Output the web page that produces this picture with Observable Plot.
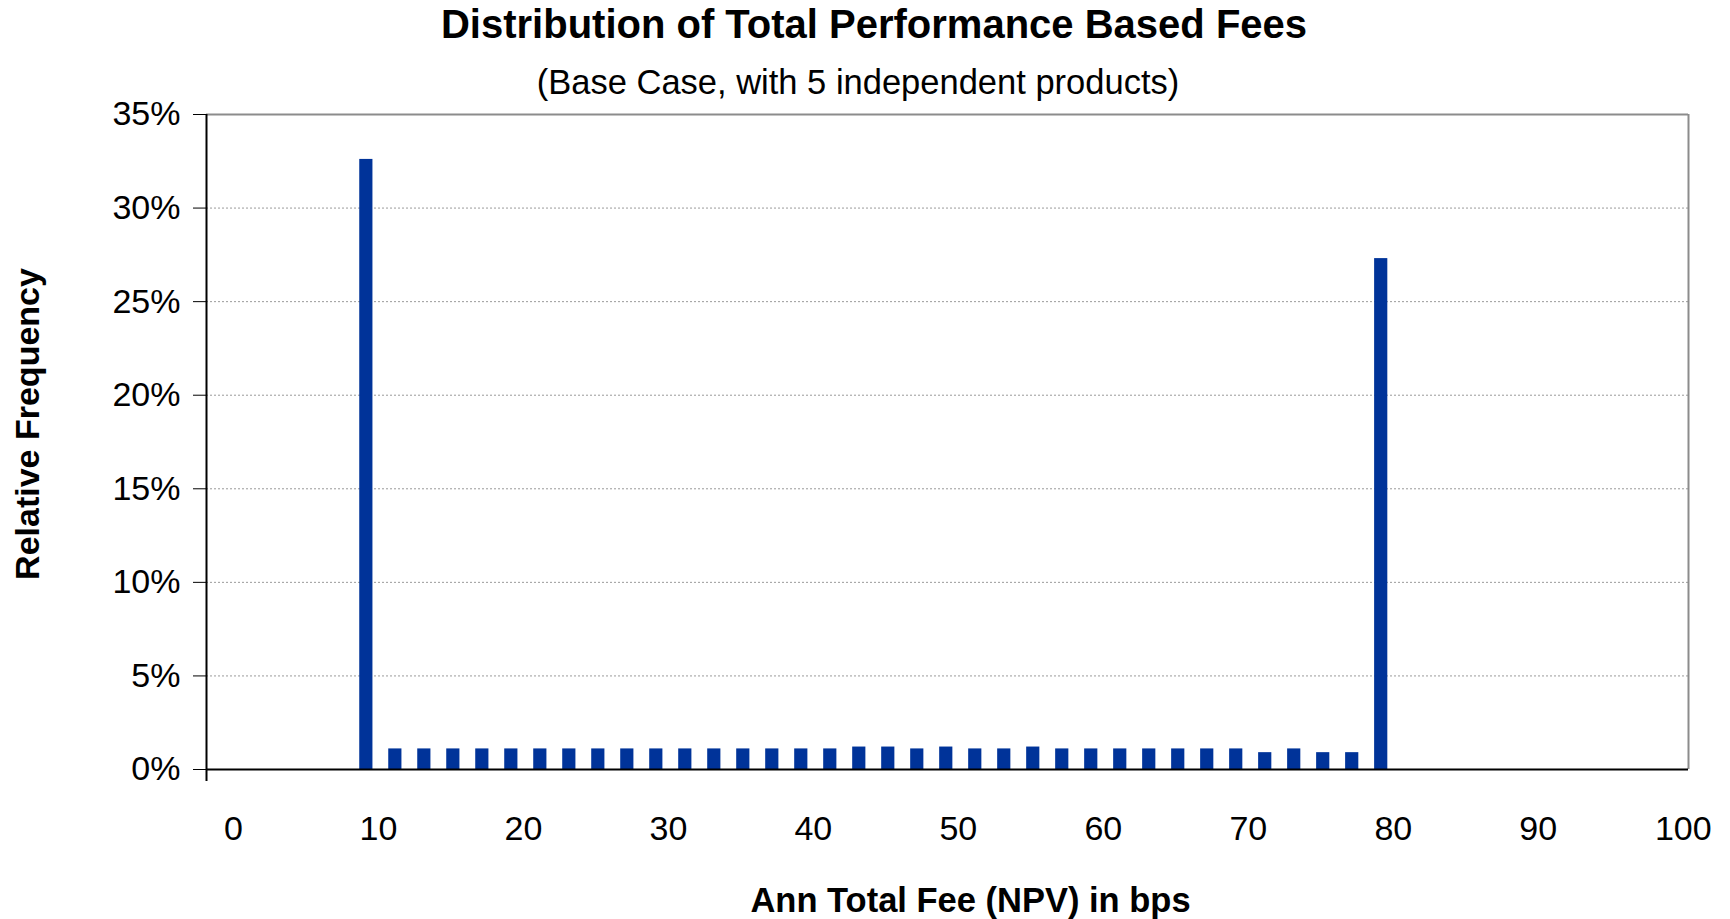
<!DOCTYPE html>
<html>
<head>
<meta charset="utf-8">
<script src="https://cdn.jsdelivr.net/npm/d3@7"></script>
<script src="https://cdn.jsdelivr.net/npm/@observablehq/plot@0.6"></script>
<style>
  html, body { margin: 0; padding: 0; background: #fff; }
  body { width: 1730px; height: 919px; position: relative; overflow: hidden; font-family: "Liberation Sans", Arial, sans-serif; }
  #chart { position: absolute; left: 0; top: 0; }
  .ttl { position: absolute; width: 1200px; text-align: center; color: #000; white-space: nowrap; line-height: normal; }
  #title { left: 274px; top: 2px; font-size: 40px; font-weight: bold; }
  #subtitle { left: 258px; top: 63px; font-size: 34.5px; }
</style>
</head>
<body>
<div id="chart"></div>
<div id="title" class="ttl">Distribution of Total Performance Based Fees</div>
<div id="subtitle" class="ttl">(Base Case, with 5 independent products)</div>
<script>
// Fee bins (bps) and relative frequency (%)
const fees = [10, 12, 14, 16, 18, 20, 22, 24, 26, 28, 30, 32, 34, 36, 38, 40, 42, 44,
              46, 48, 50, 52, 54, 56, 58, 60, 62, 64, 66, 68, 70, 72, 74, 76, 78, 80];
const freqs = [32.6, 1.1, 1.1, 1.1, 1.1, 1.1, 1.1, 1.1, 1.1, 1.1, 1.1, 1.1, 1.1, 1.1, 1.1, 1.1, 1.1, 1.2,
               1.2, 1.1, 1.2, 1.1, 1.1, 1.2, 1.1, 1.1, 1.1, 1.1, 1.1, 1.1, 1.1, 0.9, 1.1, 0.9, 0.9, 27.3];
const xTicks = [0, 10, 20, 30, 40, 50, 60, 70, 80, 90, 100];
const yTicks = [0, 5, 10, 15, 20, 25, 30, 35];
const xTitle = "Ann Total Fee (NPV) in bps";
const yTitle = "Relative Frequency";

const data = fees.map((f, i) => ({fee: f, pct: freqs[i]}));

const xMin = -1.72, xMax = 100.5;
const barColor = "#003399";

const chart = Plot.plot({
  width: 1730,
  height: 919,
  marginLeft: 206,
  marginRight: 42,
  marginTop: 114,
  marginBottom: 150,
  style: { fontFamily: "'Liberation Sans', Arial, sans-serif", fontSize: "34px", color: "#000", background: "#fff", overflow: "visible" },
  x: { type: "linear", domain: [xMin, xMax] },
  y: { domain: [0, 35] },
  marks: [
    Plot.gridY(yTicks.filter(d => d > 0 && d < 35), { stroke: "#9a9a9a", strokeOpacity: 1, strokeDasharray: "2,2", strokeWidth: 1 }),
    Plot.ruleY([35], { stroke: "#8c8c8c", strokeWidth: 2 }),
    Plot.ruleX([xMax], { stroke: "#8c8c8c", strokeWidth: 2 }),
    Plot.rectY(data, { x1: d => d.fee - 1.15, x2: d => d.fee - 0.24, y: "pct", fill: barColor }),
    Plot.ruleY([0], { stroke: "#000", strokeWidth: 2 }),
    Plot.ruleX([xMin], { stroke: "#000", strokeWidth: 2, insetBottom: -12 }),
    Plot.axisY({ ticks: yTicks, tickFormat: d => d + "%", tickSize: 13, tickPadding: 13, tickWidth: 2, stroke: "#000", label: null, fontSize: 34 }),
    Plot.axisX({ ticks: xTicks, tickFormat: d => String(d), tickSize: 0, tickPadding: 46, dx: 2, label: null, fontSize: 34 }),
    Plot.text([xTitle], { frameAnchor: "bottom", dx: 23, dy: 142, fontSize: 34.5, fontWeight: "bold", fill: "#000" }),
    Plot.text([yTitle], { frameAnchor: "left", textAnchor: "middle", rotate: -90, dx: -178, dy: -18, fontSize: 34, fontWeight: "bold", fill: "#000" })
  ]
});
document.getElementById("chart").appendChild(chart);
</script>
</body>
</html>
